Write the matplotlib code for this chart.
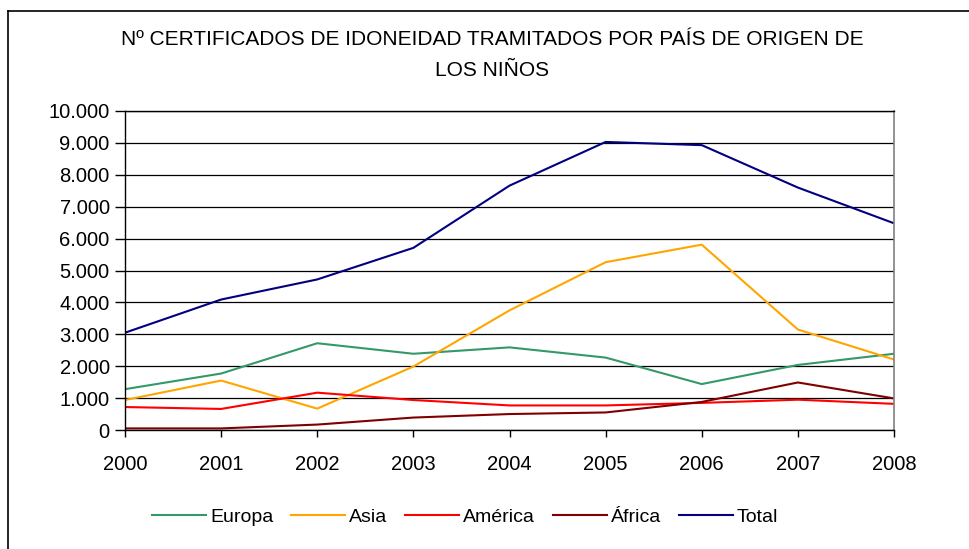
import matplotlib
matplotlib.use("Agg")
import matplotlib.pyplot as plt
from matplotlib.lines import Line2D

plt.rcParams['font.family'] = ['Liberation Sans', 'DejaVu Sans']

years = [2000, 2001, 2002, 2003, 2004, 2005, 2006, 2007, 2008]
europa = [1280, 1770, 2720, 2390, 2590, 2270, 1440, 2040, 2390]
asia = [940, 1550, 670, 1990, 3750, 5260, 5810, 3150, 2210]
america = [720, 660, 1170, 940, 770, 770, 850, 950, 820]
africa = [50, 50, 170, 390, 500, 550, 880, 1490, 990]
total = [3050, 4090, 4720, 5710, 7660, 9030, 8930, 7600, 6480]

series_names = ["Europa", "Asia", "América", "África", "Total"]
series_values = [europa, asia, america, africa, total]
series_colors = ["#339966", "#FFA500", "#FF0000", "#800000", "#000080"]

title = "Nº CERTIFICADOS DE IDONEIDAD TRAMITADOS POR PAÍS DE ORIGEN DE\nLOS NIÑOS"
yticks = list(range(0, 10001, 1000))
ytick_labels = ["0", "1.000", "2.000", "3.000", "4.000", "5.000", "6.000",
                "7.000", "8.000", "9.000", "10.000"]

W, H = 969, 549
fig = plt.figure(figsize=(W / 100, H / 100), dpi=100)
ax = fig.add_axes([125 / W, 1 - 430 / H, (894 - 125) / W, (430 - 111) / H])

for name, vals, col in zip(series_names, series_values, series_colors):
    ax.plot(years, vals, color=col, lw=1.5, label=name)

ax.set_xlim(years[0], years[-1])
ax.set_ylim(0, 10000)
ax.set_xticks(years)
ax.set_xticklabels([str(y) for y in years], fontsize=14.5)
ax.set_yticks(yticks)
ax.set_yticklabels(ytick_labels, fontsize=14.5)
ax.yaxis.grid(True, color="#000000", lw=0.9)
ax.set_axisbelow(True)
ax.tick_params(axis='y', direction='out', length=7, width=1, pad=4)
ax.tick_params(axis='x', direction='out', length=5, width=1, pad=13)
for s in ["left", "bottom", "top"]:
    ax.spines[s].set_color("#000000")
    ax.spines[s].set_linewidth(1)
ax.spines["right"].set_color("#808080")
ax.spines["right"].set_linewidth(1.2)

fig.text(492 / W, 1 - 55 / H, title, ha="center", va="center", fontsize=15,
         linespacing=1.8)

leg = fig.legend(loc="center", bbox_to_anchor=(465 / W, 1 - 517 / H), ncol=5,
                 frameon=False, fontsize=14, handlelength=2.8, handletextpad=0.2,
                 columnspacing=0.9)

# outer frame (top and left edges visible)
fig.add_artist(Line2D([8 / W, 1.0], [1 - 11 / H, 1 - 11 / H], color="black", lw=1.2,
                      transform=fig.transFigure))
fig.add_artist(Line2D([8 / W, 8 / W], [1 - 11 / H, 0.0], color="black", lw=1.2,
                      transform=fig.transFigure))

fig.savefig("out.png", dpi=100)
